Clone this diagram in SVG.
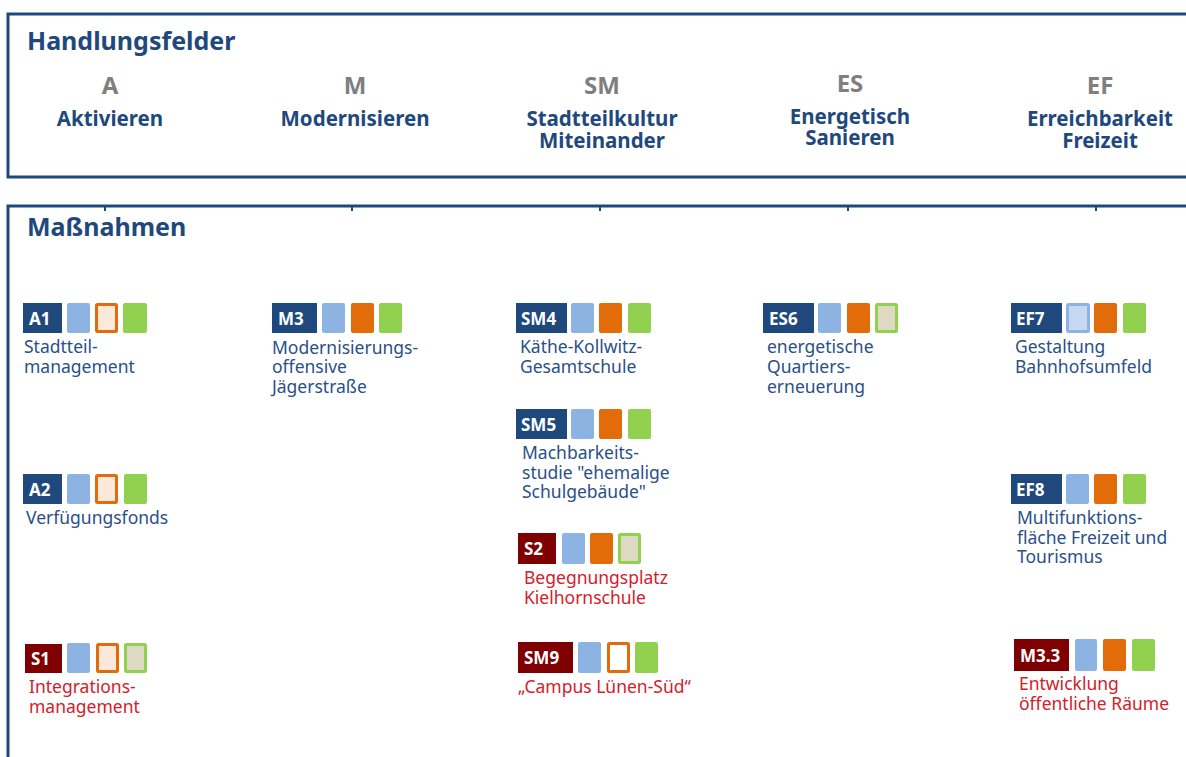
<svg xmlns="http://www.w3.org/2000/svg" width="1186" height="757" viewBox="0 0 1186 757">
<style>
.panel{fill:none;stroke:#1f497d;stroke-width:3}
.h{font-family:"Noto Sans","Open Sans",sans-serif;font-weight:bold;font-size:25px;fill:#1f497d}
.code{font-family:"Noto Sans","Open Sans",sans-serif;font-weight:bold;font-size:24px;fill:#7f7f7f;text-anchor:middle}
.name{font-family:"Noto Sans","Open Sans",sans-serif;font-weight:bold;font-size:20.5px;fill:#1f497d;text-anchor:middle}
.bn{fill:#1f497d}
.br{fill:#7f0000}
.bt{font-family:"Noto Sans","Open Sans",sans-serif;font-weight:bold;font-size:17px;fill:#ffffff}
.t{font-family:"Noto Sans","Open Sans",sans-serif;font-size:17.5px;fill:#2a5088}
.tr{font-family:"Noto Sans","Open Sans",sans-serif;font-size:17.5px;fill:#d4202a}
.sb{fill:#8db3e2}
.so{fill:#e36c0a}
.sg{fill:#92d050}
.oo{fill:#fde9d9;stroke:#e36c0a;stroke-width:3}
.ow{fill:#ffffff;stroke:#e36c0a;stroke-width:3}
.og{fill:#ddd9c3;stroke:#92d050;stroke-width:3}
.ob{fill:#c6d9f1;stroke:#8db3e2;stroke-width:3}
.tick{stroke:#1f497d;stroke-width:2}
</style>

<g id="panel-handlungsfelder">
  <rect class="panel" x="8" y="14" width="1200" height="163"/>
  <text class="h" x="27" y="50">Handlungsfelder</text>
</g>
<g id="hf-A">
  <text class="code" x="110" y="94">A</text>
  <text class="name" x="110" y="126">Aktivieren</text>
</g>
<g id="hf-M">
  <text class="code" x="355" y="94">M</text>
  <text class="name" x="355" y="126">Modernisieren</text>
</g>
<g id="hf-SM">
  <text class="code" x="602" y="94">SM</text>
  <text class="name" x="602" y="126">Stadtteilkultur</text>
  <text class="name" x="602" y="148">Miteinander</text>
</g>
<g id="hf-ES">
  <text class="code" x="850" y="92">ES</text>
  <text class="name" x="850" y="124">Energetisch</text>
  <text class="name" x="850" y="145">Sanieren</text>
</g>
<g id="hf-EF">
  <text class="code" x="1100" y="94">EF</text>
  <text class="name" x="1100" y="126">Erreichbarkeit</text>
  <text class="name" x="1100" y="148">Freizeit</text>
</g>

<g id="panel-massnahmen">
  <rect class="panel" x="8" y="206" width="1200" height="600"/>
  <text class="h" x="27" y="236">Maßnahmen</text>
</g>

<g id="connectors">
  <line class="tick" x1="105" y1="207" x2="105" y2="211"/>
  <line class="tick" x1="352" y1="207" x2="352" y2="211"/>
  <line class="tick" x1="600" y1="207" x2="600" y2="211"/>
  <line class="tick" x1="848" y1="207" x2="848" y2="211"/>
  <line class="tick" x1="1096" y1="207" x2="1096" y2="211"/>
</g>

<g id="m-A1">
  <rect class="bn" x="23" y="303" width="39" height="30"/>
  <text class="bt" x="29" y="325">A1</text>
  <rect class="sb" x="67" y="303" width="23" height="30" rx="2"/>
  <rect class="oo" x="96.5" y="304.5" width="20" height="27" rx="1"/>
  <rect class="sg" x="123" y="303" width="24" height="30" rx="2"/>
  <text class="t" x="24" y="353">Stadtteil-</text>
  <text class="t" x="24" y="373">management</text>
</g>

<g id="m-A2">
  <rect class="bn" x="23" y="474" width="39" height="30"/>
  <text class="bt" x="29" y="496">A2</text>
  <rect class="sb" x="67" y="474" width="23" height="30" rx="2"/>
  <rect class="oo" x="96.5" y="475.5" width="20" height="27" rx="1"/>
  <rect class="sg" x="124" y="474" width="23" height="30" rx="2"/>
  <text class="t" x="26" y="524">Verfügungsfonds</text>
</g>

<g id="m-S1">
  <rect class="br" x="25" y="644" width="37" height="29"/>
  <text class="bt" x="31" y="665">S1</text>
  <rect class="sb" x="67" y="643" width="23" height="30" rx="2"/>
  <rect class="oo" x="97.5" y="644.5" width="20" height="27" rx="1"/>
  <rect class="og" x="125.5" y="644.5" width="20" height="27" rx="1"/>
  <text class="tr" x="29" y="693">Integrations-</text>
  <text class="tr" x="29" y="713">management</text>
</g>

<g id="m-M3">
  <rect class="bn" x="272" y="303" width="45" height="30"/>
  <text class="bt" x="278" y="325">M3</text>
  <rect class="sb" x="322" y="303" width="23" height="30" rx="2"/>
  <rect class="so" x="351" y="303" width="23" height="30" rx="2"/>
  <rect class="sg" x="379" y="303" width="23" height="30" rx="2"/>
  <text class="t" x="272" y="354">Modernisierungs-</text>
  <text class="t" x="272" y="373">offensive</text>
  <text class="t" x="272" y="393">Jägerstraße</text>
</g>

<g id="m-SM4">
  <rect class="bn" x="516" y="303" width="51" height="30"/>
  <text class="bt" x="521" y="325">SM4</text>
  <rect class="sb" x="571" y="303" width="23" height="30" rx="2"/>
  <rect class="so" x="599" y="303" width="23" height="30" rx="2"/>
  <rect class="sg" x="628" y="303" width="23" height="30" rx="2"/>
  <text class="t" x="520" y="353">Käthe-Kollwitz-</text>
  <text class="t" x="520" y="373">Gesamtschule</text>
</g>

<g id="m-SM5">
  <rect class="bn" x="516" y="409" width="51" height="30"/>
  <text class="bt" x="521" y="431">SM5</text>
  <rect class="sb" x="571" y="409" width="23" height="30" rx="2"/>
  <rect class="so" x="599" y="409" width="23" height="30" rx="2"/>
  <rect class="sg" x="628" y="409" width="23" height="30" rx="2"/>
  <text class="t" x="522" y="459">Machbarkeits-</text>
  <text class="t" x="522" y="479">studie "ehemalige</text>
  <text class="t" x="522" y="498">Schulgebäude"</text>
</g>

<g id="m-S2">
  <rect class="br" x="518" y="533" width="38" height="31"/>
  <text class="bt" x="524" y="555">S2</text>
  <rect class="sb" x="562" y="533" width="23" height="31" rx="2"/>
  <rect class="so" x="590" y="533" width="23" height="31" rx="2"/>
  <rect class="og" x="619.5" y="534.5" width="20" height="28" rx="1"/>
  <text class="tr" x="524" y="584">Begegnungsplatz</text>
  <text class="tr" x="524" y="604">Kielhornschule</text>
</g>

<g id="m-SM9">
  <rect class="br" x="518" y="642" width="55" height="31"/>
  <text class="bt" x="524" y="664">SM9</text>
  <rect class="sb" x="578" y="642" width="23" height="31" rx="2"/>
  <rect class="ow" x="608.5" y="643.5" width="20" height="28" rx="1"/>
  <rect class="sg" x="635" y="642" width="23" height="31" rx="2"/>
  <text class="tr" x="518" y="693">„Campus Lünen-Süd“</text>
</g>

<g id="m-ES6">
  <rect class="bn" x="763" y="303" width="51" height="30"/>
  <text class="bt" x="769" y="325">ES6</text>
  <rect class="sb" x="818" y="303" width="23" height="30" rx="2"/>
  <rect class="so" x="847" y="303" width="23" height="30" rx="2"/>
  <rect class="og" x="876.5" y="304.5" width="20" height="27" rx="1"/>
  <text class="t" x="767" y="353">energetische</text>
  <text class="t" x="767" y="373">Quartiers-</text>
  <text class="t" x="767" y="393">erneuerung</text>
</g>

<g id="m-EF7">
  <rect class="bn" x="1011" y="303" width="51" height="30"/>
  <text class="bt" x="1016" y="325">EF7</text>
  <rect class="ob" x="1067.5" y="304.5" width="21" height="27" rx="1"/>
  <rect class="so" x="1094" y="303" width="23" height="30" rx="2"/>
  <rect class="sg" x="1123" y="303" width="23" height="30" rx="2"/>
  <text class="t" x="1015" y="353">Gestaltung</text>
  <text class="t" x="1015" y="373">Bahnhofsumfeld</text>
</g>

<g id="m-EF8">
  <rect class="bn" x="1011" y="474" width="51" height="30"/>
  <text class="bt" x="1016" y="496">EF8</text>
  <rect class="sb" x="1066" y="474" width="23" height="30" rx="2"/>
  <rect class="so" x="1094" y="474" width="23" height="30" rx="2"/>
  <rect class="sg" x="1123" y="474" width="23" height="30" rx="2"/>
  <text class="t" x="1017" y="524">Multifunktions-</text>
  <text class="t" x="1017" y="544">fläche Freizeit und</text>
  <text class="t" x="1017" y="563">Tourismus</text>
</g>

<g id="m-M3.3">
  <rect class="br" x="1014" y="639" width="55" height="32"/>
  <text class="bt" x="1020" y="662">M3.3</text>
  <rect class="sb" x="1075" y="639" width="22" height="32" rx="2"/>
  <rect class="so" x="1103" y="639" width="23" height="32" rx="2"/>
  <rect class="sg" x="1132" y="639" width="23" height="32" rx="2"/>
  <text class="tr" x="1019" y="690">Entwicklung</text>
  <text class="tr" x="1019" y="710">öffentliche Räume</text>
</g>
</svg>
